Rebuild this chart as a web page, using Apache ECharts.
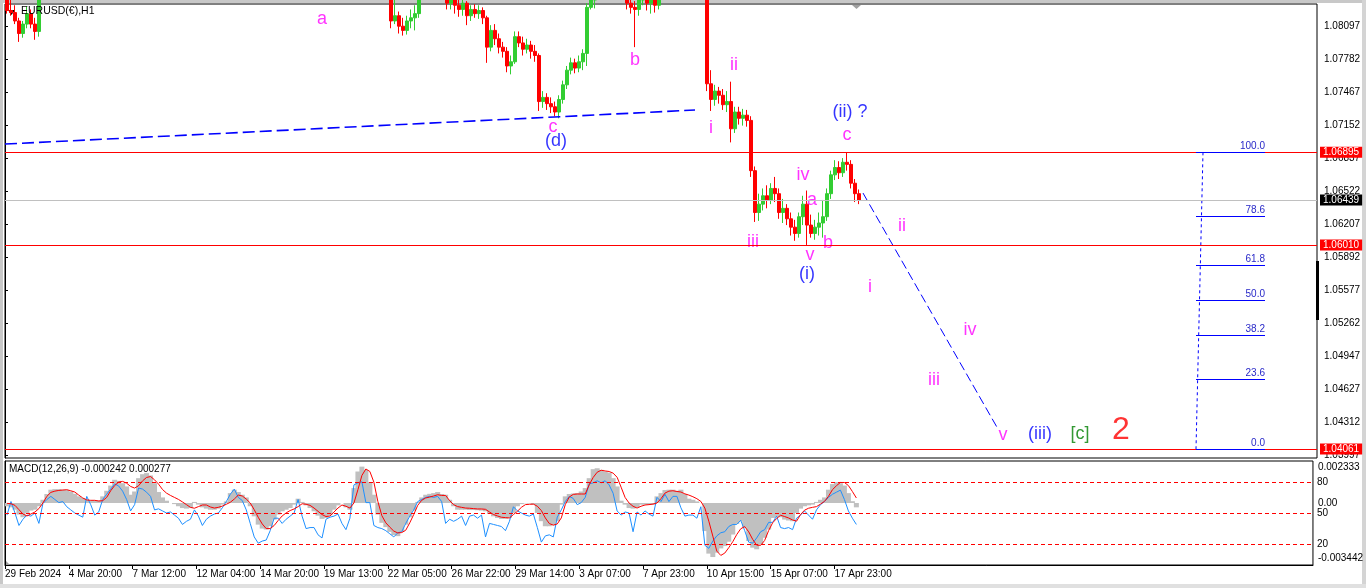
<!DOCTYPE html>
<html><head><meta charset="utf-8">
<script src="https://cdn.jsdelivr.net/npm/echarts@6.0.0/dist/echarts.min.js"></script>
<style>html,body{margin:0;padding:0;background:#fff}#c{width:1366px;height:588px}</style>
</head><body><div id="c"></div>
<script>
// ---- DATA (EURUSD H1, aggregated into 4-hour candles) ----
const xTickLabels = ['29 Feb 2024','4 Mar 20:00','7 Mar 12:00','12 Mar 04:00','14 Mar 20:00','19 Mar 13:00','22 Mar 05:00','26 Mar 22:00','29 Mar 14:00','3 Apr 07:00','7 Apr 23:00','10 Apr 15:00','15 Apr 07:00','17 Apr 23:00'];
const priceTicks = [1.08097,1.07782,1.07467,1.07152,1.06837,1.06522,1.06207,1.05892,1.05577,1.05262,1.04947,1.04627,1.04312,1.03997];
// [open, close, low, high]
const candles = [
[1.0840,1.0825,1.0822,1.0845],[1.0825,1.0823,1.0820,1.0835],[1.0823,1.0815,1.0812,1.0830],[1.0815,1.0803,1.0795,1.0818],[1.0803,1.0812,1.0799,1.0815],
[1.0812,1.0822,1.0808,1.0829],[1.0822,1.0812,1.0808,1.0826],[1.0812,1.0805,1.0797,1.0818],[1.0805,1.0835,1.0800,1.0838],[1.0835,1.0842,1.0832,1.0848],
[1.0842,1.0838,1.0834,1.0850],[1.0838,1.0846,1.0835,1.0850],[1.0846,1.0855,1.0842,1.0860],[1.0855,1.0858,1.0848,1.0866],[1.0858,1.0852,1.0847,1.0864],
[1.0852,1.0860,1.0849,1.0866],[1.0860,1.0856,1.0851,1.0864],[1.0856,1.0854,1.0849,1.0860],[1.0854,1.0848,1.0842,1.0859],[1.0848,1.0852,1.0840,1.0858],
[1.0852,1.0858,1.0847,1.0864],[1.0858,1.0855,1.0850,1.0862],[1.0855,1.0862,1.0851,1.0868],[1.0862,1.0868,1.0858,1.0872],[1.0868,1.0880,1.0864,1.0885],
[1.0880,1.0895,1.0876,1.0900],[1.0895,1.0901,1.0889,1.0908],[1.0901,1.0898,1.0892,1.0906],[1.0898,1.0896,1.0890,1.0903],[1.0896,1.0893,1.0887,1.0900],
[1.0893,1.0890,1.0884,1.0898],[1.0890,1.0912,1.0880,1.0918],[1.0912,1.0945,1.0906,1.0950],[1.0945,1.0948,1.0938,1.0955],[1.0948,1.0944,1.0939,1.0952],
[1.0944,1.0952,1.0940,1.0957],[1.0952,1.0965,1.0948,1.0972],[1.0965,1.0975,1.0960,1.0981],[1.0975,1.0940,1.0935,1.0978],[1.0940,1.0938,1.0930,1.0946],
[1.0938,1.0935,1.0930,1.0942],[1.0935,1.0930,1.0925,1.0940],[1.0930,1.0938,1.0927,1.0942],[1.0938,1.0932,1.0926,1.0941],[1.0932,1.0926,1.0921,1.0936],
[1.0926,1.0930,1.0920,1.0935],[1.0930,1.0928,1.0924,1.0933],[1.0928,1.0924,1.0920,1.0932],[1.0924,1.0910,1.0905,1.0928],[1.0910,1.0918,1.0900,1.0922],
[1.0918,1.0925,1.0914,1.0930],[1.0925,1.0928,1.0920,1.0932],[1.0928,1.0926,1.0922,1.0931],[1.0926,1.0932,1.0923,1.0936],[1.0932,1.0940,1.0928,1.0945],
[1.0940,1.0950,1.0936,1.0955],[1.0950,1.0958,1.0944,1.0964],[1.0958,1.0954,1.0948,1.0962],[1.0954,1.0948,1.0944,1.0957],[1.0948,1.0942,1.0938,1.0952],
[1.0942,1.0935,1.0930,1.0946],[1.0935,1.0910,1.0905,1.0938],[1.0910,1.0885,1.0880,1.0914],[1.0885,1.0882,1.0876,1.0890],[1.0882,1.0880,1.0875,1.0886],
[1.0880,1.0876,1.0870,1.0884],[1.0876,1.0884,1.0872,1.0888],[1.0884,1.0890,1.0880,1.0895],[1.0890,1.0886,1.0880,1.0894],[1.0886,1.0888,1.0882,1.0893],
[1.0888,1.0890,1.0884,1.0894],[1.0890,1.0886,1.0882,1.0894],[1.0886,1.0892,1.0884,1.0898],[1.0892,1.0898,1.0888,1.0902],[1.0898,1.0892,1.0886,1.0900],
[1.0892,1.0878,1.0874,1.0895],[1.0878,1.0872,1.0866,1.0882],[1.0872,1.0866,1.0860,1.0876],[1.0866,1.0850,1.0845,1.0870],[1.0850,1.0842,1.0836,1.0855],
[1.0842,1.0855,1.0838,1.0860],[1.0855,1.0862,1.0850,1.0868],[1.0862,1.0866,1.0856,1.0870],[1.0866,1.0858,1.0852,1.0870],[1.0858,1.0852,1.0846,1.0862],
[1.0852,1.0848,1.0842,1.0856],[1.0848,1.0855,1.0843,1.0860],[1.0855,1.0905,1.0850,1.0912],[1.0905,1.0925,1.0900,1.0932],[1.0925,1.0938,1.0918,1.0942],
[1.0938,1.0920,1.0915,1.0942],[1.0920,1.0900,1.0895,1.0925],[1.0900,1.0870,1.0865,1.0905],[1.0870,1.0862,1.0855,1.0875],[1.0862,1.0858,1.0852,1.0866],
[1.0858,1.0848,1.0840,1.0862],[1.0848,1.0815,1.0808,1.0852],[1.0815,1.0820,1.0812,1.0835],[1.0820,1.0810,1.0803,1.0824],[1.0810,1.0806,1.0801,1.0818],
[1.0806,1.0815,1.0802,1.0820],[1.0815,1.0818,1.0808,1.0826],[1.0818,1.0822,1.0806,1.0830],[1.0822,1.0835,1.0818,1.0840],[1.0835,1.0842,1.0833,1.0848],
[1.0842,1.0848,1.0838,1.0852],[1.0848,1.0845,1.0840,1.0855],[1.0845,1.0852,1.0840,1.0858],[1.0852,1.0860,1.0848,1.0865],[1.0860,1.0850,1.0842,1.0864],
[1.0850,1.0832,1.0826,1.0855],[1.0832,1.0838,1.0826,1.0845],[1.0838,1.0830,1.0822,1.0842],[1.0830,1.0826,1.0819,1.0838],[1.0826,1.0832,1.0820,1.0836],
[1.0832,1.0820,1.0811,1.0834],[1.0820,1.0826,1.0815,1.0830],[1.0826,1.0822,1.0818,1.0831],[1.0822,1.0825,1.0817,1.0830],[1.0825,1.0818,1.0812,1.0828],
[1.0818,1.0790,1.0775,1.0820],[1.0790,1.0806,1.0786,1.0811],[1.0806,1.0798,1.0792,1.0812],[1.0798,1.0790,1.0784,1.0803],[1.0790,1.0786,1.0780,1.0795],
[1.0786,1.0772,1.0766,1.0790],[1.0772,1.0776,1.0764,1.0782],[1.0776,1.0800,1.0774,1.0805],[1.0800,1.0794,1.0790,1.0805],[1.0794,1.0788,1.0782,1.0800],
[1.0788,1.0792,1.0784,1.0798],[1.0792,1.0786,1.0779,1.0796],[1.0786,1.0782,1.0776,1.0792],[1.0782,1.0738,1.0729,1.0784],[1.0738,1.0742,1.0732,1.0748],
[1.0742,1.0736,1.0730,1.0746],[1.0736,1.0733,1.0727,1.0742],[1.0733,1.0728,1.0724,1.0738],[1.0728,1.0740,1.0722,1.0744],[1.0740,1.0754,1.0736,1.0758],
[1.0754,1.0768,1.0750,1.0772],[1.0768,1.0775,1.0764,1.0780],[1.0775,1.0770,1.0765,1.0779],[1.0770,1.0776,1.0766,1.0782],[1.0776,1.0784,1.0768,1.0788],
[1.0784,1.0828,1.0772,1.0832],[1.0828,1.0835,1.0826,1.0842],[1.0835,1.0840,1.0827,1.0846],[1.0840,1.0848,1.0834,1.0852],[1.0848,1.0855,1.0842,1.0860],
[1.0855,1.0862,1.0850,1.0868],[1.0862,1.0870,1.0856,1.0876],[1.0870,1.0858,1.0852,1.0874],[1.0858,1.0842,1.0836,1.0862],[1.0842,1.0838,1.0833,1.0848],
[1.0838,1.0832,1.0826,1.0842],[1.0832,1.0828,1.0822,1.0838],[1.0828,1.0826,1.0790,1.0834],[1.0826,1.0835,1.0820,1.0842],[1.0835,1.0838,1.0830,1.0844],
[1.0838,1.0832,1.0825,1.0842],[1.0832,1.0836,1.0822,1.0840],[1.0836,1.0830,1.0823,1.0840],[1.0830,1.0842,1.0826,1.0848],[1.0842,1.0850,1.0836,1.0856],
[1.0850,1.0858,1.0845,1.0864],[1.0858,1.0855,1.0848,1.0862],[1.0855,1.0862,1.0850,1.0868],[1.0862,1.0872,1.0858,1.0878],[1.0872,1.0880,1.0866,1.0885],
[1.0880,1.0874,1.0868,1.0884],[1.0874,1.0868,1.0862,1.0878],[1.0868,1.0862,1.0856,1.0872],[1.0862,1.0858,1.0852,1.0866],[1.0858,1.0860,1.0852,1.0866],
[1.0860,1.0755,1.0748,1.0865],[1.0755,1.0740,1.0729,1.0768],[1.0740,1.0748,1.0734,1.0754],[1.0748,1.0744,1.0736,1.0752],[1.0744,1.0735,1.0730,1.0750],
[1.0735,1.0738,1.0728,1.0748],[1.0738,1.0712,1.0699,1.0757],[1.0712,1.0728,1.0708,1.0733],[1.0728,1.0722,1.0716,1.0733],[1.0722,1.0725,1.0715,1.0731],
[1.0725,1.0720,1.0714,1.0730],[1.0720,1.0672,1.0666,1.0724],[1.0672,1.0632,1.0623,1.0676],[1.0632,1.0640,1.0624,1.0650],[1.0640,1.0648,1.0634,1.0655],
[1.0648,1.0644,1.0636,1.0658],[1.0644,1.0655,1.0640,1.0660],[1.0655,1.0650,1.0642,1.0666],[1.0650,1.0632,1.0626,1.0655],[1.0632,1.0636,1.0622,1.0645],
[1.0636,1.0626,1.0620,1.0640],[1.0626,1.0618,1.0610,1.0632],[1.0618,1.0612,1.0605,1.0625],[1.0612,1.0628,1.0608,1.0632],[1.0628,1.0640,1.0620,1.0648],
[1.0640,1.0620,1.0601,1.0653],[1.0620,1.0612,1.0608,1.0630],[1.0612,1.0618,1.0606,1.0625],[1.0618,1.0622,1.0610,1.0632],[1.0622,1.0628,1.0608,1.0644],
[1.0628,1.0650,1.0624,1.0655],[1.0650,1.0668,1.0645,1.0672],[1.0668,1.0675,1.0663,1.0682],[1.0675,1.0670,1.0664,1.0681],[1.0670,1.0680,1.0666,1.0684],
[1.0680,1.0678,1.0672,1.06895],[1.0678,1.0660,1.0655,1.0682],[1.0660,1.0650,1.0642,1.0664],[1.0650,1.06439,1.0640,1.0654]
];
const macdMain = [
-0.00018,-0.00024,-0.00037,-0.00064,-0.00079,-0.00055,-0.00042,-0.00037,-0.00018,0.00018,
0.00050,0.00074,0.00077,0.00077,0.00074,0.00072,0.00064,0.00051,0.00037,0.00028,
0.00018,0.00015,0.00015,0.00015,0.00037,0.00068,0.00097,0.00129,0.00123,0.00110,
0.00092,0.00046,0.00064,0.00138,0.00160,0.00166,0.00153,0.00110,0.00061,0.00031,
0.00013,0.00000,-0.00006,-0.00018,-0.00028,-0.00031,-0.00028,0.00006,-0.00009,-0.00024,
-0.00031,-0.00037,-0.00037,-0.00031,-0.00009,0.00009,0.00055,0.00074,0.00061,0.00046,
0.00031,-0.00018,-0.00074,-0.00120,-0.00142,-0.00147,-0.00129,-0.00092,-0.00064,-0.00046,
-0.00037,-0.00028,-0.00009,0.00024,0.00006,-0.00013,-0.00028,-0.00046,-0.00070,-0.00088,
-0.00083,-0.00068,-0.00037,-0.00013,0.00000,-0.00024,-0.00037,0.00083,0.00175,0.00202,
0.00184,0.00116,0.00046,-0.00064,-0.00110,-0.00134,-0.00160,-0.00178,-0.00184,-0.00160,
-0.00120,-0.00079,-0.00042,0.00006,0.00031,0.00046,0.00051,0.00055,0.00061,0.00050,
0.00046,0.00018,-0.00018,-0.00037,-0.00037,-0.00037,-0.00039,-0.00039,-0.00040,-0.00042,
-0.00046,-0.00061,-0.00074,-0.00083,-0.00088,-0.00088,-0.00083,-0.00055,-0.00018,-0.00006,
-0.00002,-0.00002,-0.00009,-0.00055,-0.00101,-0.00129,-0.00129,-0.00123,-0.00101,-0.00009,
0.00037,0.00050,0.00053,0.00055,0.00064,0.00083,0.00138,0.00188,0.00193,0.00184,
0.00175,0.00169,0.00138,0.00092,0.00013,-0.00009,-0.00028,-0.00031,-0.00024,-0.00009,
-0.00009,-0.00009,-0.00009,0.00037,0.00055,0.00072,0.00074,0.00074,0.00068,0.00074,
0.00050,0.00024,0.00018,0.00009,0.00000,-0.00156,-0.00281,-0.00300,-0.00276,-0.00252,
-0.00239,-0.00215,-0.00175,-0.00116,-0.00101,-0.00138,-0.00211,-0.00248,-0.00257,-0.00230,
-0.00193,-0.00147,-0.00083,-0.00077,-0.00079,-0.00092,-0.00097,-0.00101,-0.00055,-0.00031,
-0.00018,-0.00013,-0.00009,0.00006,0.00018,0.00031,0.00074,0.00105,0.00116,0.00110,
0.00097,0.00055,0.00010,-0.00024
];
const macdSignal = [
-0.00002,-0.00004,-0.00013,-0.00037,-0.00061,-0.00072,-0.00061,-0.00050,-0.00031,0.00000,
0.00037,0.00059,0.00066,0.00070,0.00072,0.00074,0.00068,0.00061,0.00044,0.00028,
0.00017,0.00015,0.00015,0.00011,0.00013,0.00031,0.00068,0.00097,0.00116,0.00120,
0.00110,0.00092,0.00083,0.00096,0.00123,0.00142,0.00147,0.00129,0.00105,0.00075,
0.00055,0.00042,0.00031,0.00020,0.00006,-0.00009,-0.00024,-0.00029,-0.00020,-0.00011,
-0.00011,-0.00022,-0.00028,-0.00024,-0.00017,-0.00007,0.00004,0.00022,0.00044,0.00039,
0.00022,0.00000,-0.00037,-0.00079,-0.00116,-0.00142,-0.00142,-0.00125,-0.00097,-0.00072,
-0.00055,-0.00042,-0.00033,-0.00020,-0.00004,-0.00007,-0.00013,-0.00028,-0.00046,-0.00064,
-0.00075,-0.00072,-0.00050,-0.00028,-0.00011,-0.00018,-0.00028,0.00000,0.00074,0.00153,
0.00189,0.00175,0.00116,0.00009,-0.00070,-0.00110,-0.00134,-0.00156,-0.00166,-0.00164,
-0.00151,-0.00110,-0.00064,-0.00013,0.00015,0.00028,0.00033,0.00039,0.00046,0.00042,
0.00042,0.00013,-0.00009,-0.00020,-0.00024,-0.00028,-0.00029,-0.00031,-0.00033,-0.00033,
-0.00035,-0.00050,-0.00064,-0.00072,-0.00079,-0.00081,-0.00083,-0.00064,-0.00046,-0.00024,
-0.00009,-0.00007,-0.00006,-0.00018,-0.00042,-0.00083,-0.00114,-0.00123,-0.00116,-0.00083,
-0.00009,0.00033,0.00048,0.00050,0.00050,0.00050,0.00101,0.00142,0.00171,0.00182,
0.00178,0.00175,0.00166,0.00143,0.00088,0.00031,0.00000,-0.00018,-0.00028,-0.00018,
-0.00011,-0.00009,-0.00006,0.00000,0.00024,0.00055,0.00066,0.00068,0.00064,0.00061,
0.00051,0.00044,0.00035,0.00024,0.00009,-0.00028,-0.00101,-0.00184,-0.00267,-0.00291,
-0.00278,-0.00248,-0.00215,-0.00175,-0.00143,-0.00131,-0.00160,-0.00202,-0.00234,-0.00235,
-0.00208,-0.00153,-0.00110,-0.00086,-0.00068,-0.00075,-0.00083,-0.00094,-0.00101,-0.00064,
-0.00040,-0.00029,-0.00024,-0.00020,-0.00006,0.00009,0.00037,0.00074,0.00096,0.00114,
0.00114,0.00097,0.00064,0.00028
];
const blueLine = [
48,61,50,38,44,48,47,50,40,59, 63,66,63,60,61,56,53,50,48,46,
66,58,48,51,63,68,73,78,76,71, 63,52,58,74,73,70,66,53,54,52,
50,51,48,45,39,42,44,53,47,38, 44,47,49,50,55,61,68,73,65,62,
53,40,27,21,23,24,33,45,45,40, 44,47,50,63,47,35,36,36,29,26,
44,46,47,49,40,34,45,77,79,80, 60,60,38,36,35,33,30,27,31,32,
40,47,53,61,63,65,66,65,66,61, 40,44,42,44,47,38,47,48,45,48,
27,40,39,38,37,33,42,56,52,50, 48,47,49,36,22,28,29,27,46,53,
61,66,64,58,60,65,78,79,81,79, 81,77,69,52,48,51,50,32,51,48,
52,49,47,65,61,68,61,66,66,55, 47,48,48,45,56,19,16,23,28,31,
32,37,39,39,43,33,22,21,26,32, 34,41,41,47,36,35,36,34,45,48,
52,48,44,53,58,61,65,68,70,72, 63,52,45,39
];
const blueLevels = [80, 50, 20];
const hLines = [1.06895, 1.06010, 1.04061];           // 100% level, support, 0% target
const fibLevels = [0, 23.6, 38.2, 50, 61.8, 78.6, 100];
// wave labels: [text, slot position, price, colour key, font size]
const waveLabels = [
 ['a',79.25,1.08168,'m',18],['b',157.5,1.07777,'m',18],['c',137,1.07137,'m',18],['(d)',137.75,1.07003,'b',18],
 ['i',176.5,1.07127,'m',18],['ii',182.25,1.07729,'m',18],['(ii) ?',211.25,1.07280,'b',18],['c',210.5,1.07060,'m',18],
 ['iv',199.5,1.06678,'m',18],['a',201.75,1.06439,'m',18],['iii',187,1.06038,'m',18],['v',201.25,1.05914,'m',18],
 ['b',205.75,1.06029,'m',18],['(i)',200.5,1.05732,'b',18],['ii',224.25,1.06191,'m',18],['i',216.25,1.05608,'m',18],
 ['iv',241.25,1.05198,'m',18],['iii',232.25,1.04720,'m',18],['v',249.5,1.04195,'m',18],['(iii)',258.75,1.04204,'b',18],
 ['[c]',268.75,1.04204,'g',18],['2',279,1.04242,'r',32]
];
const trendLine = [[0,1.06974],[172.5,1.07299]];
const projectionLine = [[214.5,1.06506],[248.25,1.04252]];
const fibX = {start:297.75, end:315, topX:299.5};

// ---- CHART ----
const SLOTS = 328;
const Y_MIN = 1.03975, Y_MAX = 1.08312;
const MACD_MIN = -0.003442, MACD_MAX = 0.002333;
const FONT = '"Liberation Sans", Arial, sans-serif';
const cats = Array.from({length: SLOTS}, (_, i) => i);
const tickPos = xTickLabels.map((_, k) => k * 16);
const lastClose = candles[candles.length - 1][1];
const colorMap = {m:'#FF00FF', b:'#0000FF', g:'#008000', r:'#FF0000'};
const fibHigh = hLines[0], fibLow = hLines[2];
const macdUnit = (MACD_MAX - MACD_MIN) / 104;

const boxLabel = (bg) => ({show:true, position:'end', distance:3, formatter: p => Number(p.value).toFixed(5),
  color:'#fff', backgroundColor:bg, padding:[1,3,0,3], fontSize:10, fontFamily:FONT, lineHeight:10});

const option = {
  animation:false,
  backgroundColor:'#fff',
  textStyle:{fontFamily:FONT},
  title:[
    {text:'EURUSD(€),H1', left:21, top:6, padding:0, textStyle:{fontSize:10.5, fontWeight:'normal', color:'#000', fontFamily:FONT}},
    {text:'MACD(12,26,9) -0.000242 0.000277', left:9, top:464, padding:0, textStyle:{fontSize:10, fontWeight:'normal', color:'#000', fontFamily:FONT}}
  ],
  grid:[
    {left:5, top:4, width:1312, height:454, show:true, borderColor:'#000', borderWidth:1, backgroundColor:'transparent'},
    {left:5, top:461, width:1312, height:104, show:true, borderColor:'#000', borderWidth:1, backgroundColor:'transparent'}
  ],
  xAxis:[
    {type:'category', gridIndex:0, data:cats, show:false, boundaryGap:true},
    {type:'value', gridIndex:0, min:0, max:SLOTS, show:false},
    {type:'category', gridIndex:1, data:cats, show:false, boundaryGap:true},
    {type:'value', gridIndex:1, min:0, max:SLOTS, position:'bottom',
      axisLine:{show:true, lineStyle:{color:'#000'}},
      axisTick:{show:true, length:4, lineStyle:{color:'#000'}, customValues:tickPos},
      axisLabel:{customValues:tickPos, formatter:v => xTickLabels[Math.round(v/16)] || '', align:'left', margin:4, color:'#000', fontSize:10, fontFamily:FONT},
      splitLine:{show:false}}
  ],
  yAxis:[
    {type:'value', gridIndex:0, min:Y_MIN, max:Y_MAX, position:'right',
      axisLine:{show:true, lineStyle:{color:'#000'}},
      axisTick:{show:true, length:3, lineStyle:{color:'#000'}, customValues:priceTicks},
      axisLabel:{customValues:priceTicks, formatter:v => v.toFixed(5), margin:7, color:'#000', fontSize:10, fontFamily:FONT},
      splitLine:{show:false}},
    {type:'value', gridIndex:1, min:MACD_MIN, max:MACD_MAX, position:'right',
      axisLine:{show:true, lineStyle:{color:'#000'}}, axisTick:{show:false},
      axisLabel:{customValues:[MACD_MAX - 6.5*macdUnit, 0, MACD_MIN + 6.5*macdUnit],
        formatter:v => v > 0.001 ? MACD_MAX.toFixed(6) : (v < -0.001 ? MACD_MIN.toFixed(6) : '0.00'),
        margin:5, color:'#000', fontSize:10, fontFamily:FONT},
      splitLine:{show:false}},
    {type:'value', gridIndex:1, min:0, max:100, position:'right', offset:0,
      axisLine:{show:false}, axisTick:{show:false},
      axisLabel:{customValues:blueLevels, formatter:v => String(v), margin:4, color:'#000', fontSize:10, fontFamily:FONT},
      splitLine:{show:false}}
  ],
  series:[
    {type:'candlestick', xAxisIndex:0, yAxisIndex:0, data:candles, barWidth:3, clip:true,
      itemStyle:{color:'#32CD32', color0:'#FF0000', borderColor:'#32CD32', borderColor0:'#FF0000', borderWidth:1}},
    {type:'line', name:'bid', xAxisIndex:1, yAxisIndex:0, data:[], clip:false, silent:true, z:1,
      markLine:{silent:true, symbol:'none', animation:false, precision:5,
        lineStyle:{color:'#C0C0C0', width:1, type:'solid'},
        data:[{yAxis:lastClose, lineStyle:{color:'#C0C0C0', width:1, type:'solid'}, label:boxLabel('#000000')}]}},
    {type:'line', name:'levels', xAxisIndex:1, yAxisIndex:0, data:[], clip:false, silent:true,
      markLine:{silent:true, symbol:'none', animation:false, precision:5,
        lineStyle:{color:'#FF0000', width:1, type:'solid'},
        data: hLines.map(v => ({yAxis:v, lineStyle:{color:'#FF0000', width:1, type:'solid', opacity:1}, label:boxLabel('#FF0000')}))}},
    {type:'line', xAxisIndex:1, yAxisIndex:0, data:trendLine, showSymbol:false, symbol:'none', silent:true,
      lineStyle:{color:'#0000FF', width:1.6, type:[12,5]}},
    {type:'line', xAxisIndex:1, yAxisIndex:0, data:projectionLine, showSymbol:false, symbol:'none', silent:true,
      lineStyle:{color:'#0000FF', width:1, type:[9,4]}},
    {type:'line', xAxisIndex:1, yAxisIndex:0, data:[[fibX.topX, fibHigh],[fibX.start, fibLow]], showSymbol:false, symbol:'none', silent:true,
      lineStyle:{color:'#0000FF', width:1, type:[3,3]},
      markLine:{silent:true, symbol:'none', animation:false, precision:5,
        lineStyle:{color:'#0000FF', width:1, type:'solid'},
        data: fibLevels.map(l => {
        const pr = fibLow + (fibHigh - fibLow) * l / 100;
        return [{coord:[fibX.start, pr],
                 label:{show:true, position:'insideEndTop', formatter:l.toFixed(1), color:'#2828C8', fontSize:10, fontFamily:FONT, distance:[0,1]}},
                {coord:[fibX.end, pr]}];
      })}},
    {type:'scatter', xAxisIndex:1, yAxisIndex:0, symbolSize:1, silent:true, itemStyle:{color:'transparent'},
      data: waveLabels.map(w => ({name:w[0], value:[w[1], w[2]],
        label:{show:true, position:'inside', formatter:w[0], color:colorMap[w[3]], fontSize:w[4], fontFamily:FONT}}))},
    {type:'bar', xAxisIndex:2, yAxisIndex:1, data:macdMain, barWidth:5, silent:true,
      itemStyle:{color:'#C0C0C0'}},
    {type:'line', xAxisIndex:2, yAxisIndex:2, data:blueLine, showSymbol:false, symbol:'none', silent:true,
      lineStyle:{color:'#1E90FF', width:1},
      markLine:{silent:true, symbol:'none', animation:false, label:{show:false},
        lineStyle:{color:'#FF0000', width:1, type:[4,3]}, data: blueLevels.map(v => ({yAxis:v}))}},
    {type:'line', xAxisIndex:2, yAxisIndex:1, data:macdSignal, showSymbol:false, symbol:'none', silent:true,
      lineStyle:{color:'#FF0000', width:1}}
  ],
  graphic:[
    {type:'rect', shape:{x:0,y:0,width:1366,height:3}, style:{fill:'#C8C8C8'}, silent:true},
    {type:'rect', shape:{x:0,y:0,width:3,height:588}, style:{fill:'#C8C8C8'}, silent:true},
    {type:'rect', shape:{x:1362,y:0,width:4,height:588}, style:{fill:'#D4D4D4'}, silent:true},
    {type:'rect', shape:{x:0,y:584,width:1366,height:4}, style:{fill:'#E0E0E0'}, silent:true},
    {type:'polygon', shape:{points:[[8,10],[15,10],[11.5,15]]}, style:{fill:'#000'}, silent:true},
    {type:'polygon', shape:{points:[[852,5],[861,5],[856.5,9]]}, style:{fill:'#A0A0A0'}, silent:true},
    {type:'polygon', shape:{points:[[5,560],[5,565],[10,565]]}, style:{fill:'#A0A0A0'}, silent:true},
    {type:'rect', shape:{x:1316,y:261,width:3,height:59}, style:{fill:'#000'}, silent:true}
  ]
};
const chart = echarts.init(document.getElementById('c'));
chart.setOption(option);
</script></body></html>
